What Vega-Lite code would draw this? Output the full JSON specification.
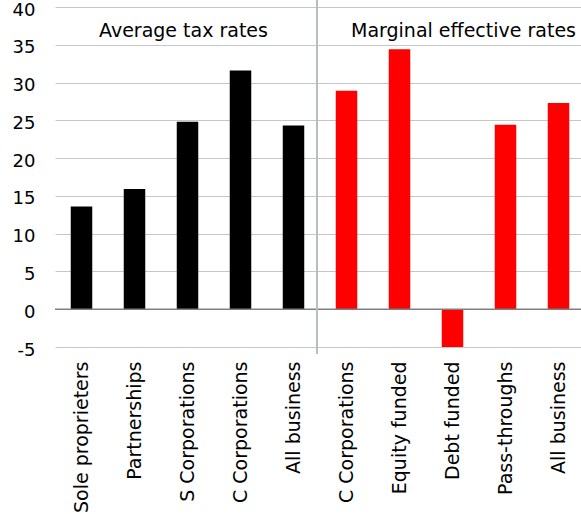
{
  "$schema": "https://vega.github.io/schema/vega-lite/v6.json",
  "width": 526,
  "height": 340,
  "autosize": {"type": "none"},
  "padding": {"left": 55, "top": 7, "right": 0, "bottom": 167},
  "config": {
    "view": {"stroke": null},
    "font": "DejaVu Sans",
    "background": "white",
    "axis": {"labelOverlap": false}
  },
  "data": {
    "values": [
      {"key": "1|Sole proprieters", "group": "Average", "rate": 13.6},
      {"key": "2|Partnerships", "group": "Average", "rate": 15.9},
      {"key": "3|S Corporations", "group": "Average", "rate": 24.8},
      {"key": "4|C Corporations", "group": "Average", "rate": 31.6},
      {"key": "5|All business", "group": "Average", "rate": 24.3},
      {"key": "6|C Corporations", "group": "Marginal", "rate": 28.9},
      {"key": "7|Equity funded", "group": "Marginal", "rate": 34.4},
      {"key": "8|Debt funded", "group": "Marginal", "rate": -5.0},
      {"key": "9|Pass-throughs", "group": "Marginal", "rate": 24.4},
      {"key": "10|All business", "group": "Marginal", "rate": 27.3}
    ]
  },
  "encoding": {
    "x": {
      "field": "key",
      "type": "nominal",
      "sort": null,
      "scale": {"range": [0, 530], "paddingInner": 0, "paddingOuter": 0},
      "axis": {
        "title": null,
        "labelExpr": "split(datum.value, '|')[1]",
        "labelAngle": -90,
        "labelAlign": "right",
        "labelBaseline": "middle",
        "labelPadding": 14,
        "labelFontSize": 19,
        "labelFontWeight": "normal",
        "labelColor": "#000000",
        "labelLimit": 0,
        "ticks": false,
        "domain": false,
        "grid": false
      }
    },
    "y": {
      "field": "rate",
      "type": "quantitative",
      "scale": {"domain": [-5, 40], "nice": false, "zero": false},
      "axis": {
        "title": null,
        "values": [-5, 0, 5, 10, 15, 20, 25, 30, 35, 40],
        "labelExpr": "datum.value + ''",
        "grid": true,
        "gridColor": "#c3c7cb",
        "gridWidth": 1.2,
        "domain": false,
        "ticks": false,
        "labelOverlap": false,
        "labelFlush": false,
        "labelSeparation": 0,
        "labelPadding": 20,
        "labelOffset": 3,
        "labelFontSize": 18,
        "labelFontWeight": "normal",
        "labelColor": "#000000"
      }
    }
  },
  "layer": [
    {
      "mark": {"type": "bar", "size": 21.5},
      "encoding": {
        "color": {
          "field": "group",
          "type": "nominal",
          "scale": {"domain": ["Average", "Marginal"], "range": ["#000000", "#ff0000"]},
          "legend": null
        }
      }
    },
    {
      "data": {"values": [{"rate": 0}]},
      "mark": {"type": "rule", "color": "#808080", "strokeWidth": 1.6},
      "encoding": {"x": null}
    },
    {
      "data": {"values": [{"key": "6|C Corporations", "top": 40, "bottom": -5}]},
      "mark": {"type": "rule", "color": "#b9bdc1", "strokeWidth": 2, "xOffset": -3, "yOffset": -7, "y2Offset": 7},
      "encoding": {
        "x": {"field": "key", "type": "nominal", "sort": null, "bandPosition": 0},
        "y": {"field": "top", "type": "quantitative"},
        "y2": {"field": "bottom"}
      }
    },
    {
      "data": {"values": [{"key": "3|S Corporations", "rate": 36, "label": "Average tax rates"}]},
      "mark": {"type": "text", "fontSize": 19, "fontWeight": "normal", "baseline": "alphabetic", "align": "center", "color": "#000000", "xOffset": -4},
      "encoding": {"text": {"field": "label"}}
    },
    {
      "data": {"values": [{"key": "8|Debt funded", "rate": 36, "label": "Marginal effective rates"}]},
      "mark": {"type": "text", "fontSize": 19, "fontWeight": "normal", "baseline": "alphabetic", "align": "center", "color": "#000000", "xOffset": 11},
      "encoding": {"text": {"field": "label"}}
    }
  ]
}
